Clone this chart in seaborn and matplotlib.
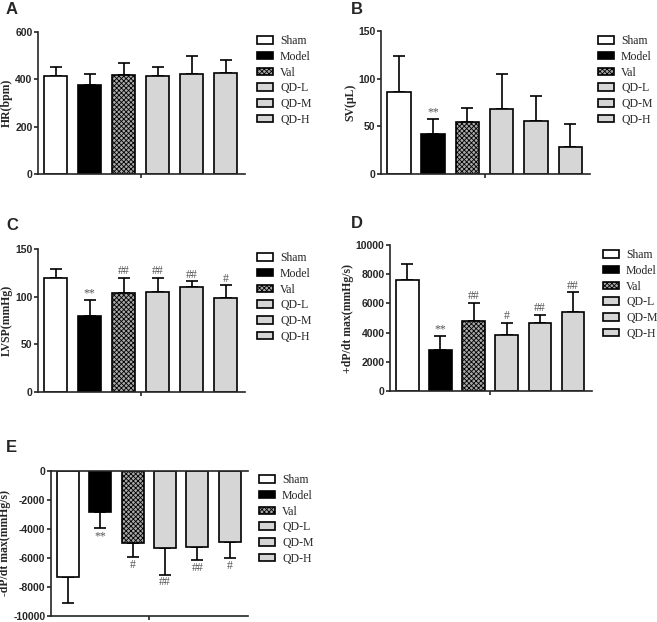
import matplotlib
matplotlib.use("Agg")
import matplotlib.pyplot as plt
import seaborn as sns
import pandas as pd
from matplotlib.patches import Patch

groups = ["Sham", "Model", "Val", "QD-L", "QD-M", "QD-H"]

hr_mean = [415, 378, 420, 415, 422, 428]
hr_sd = [37, 43, 50, 38, 78, 55]

sv_mean = [86, 42, 55, 68, 56, 28]
sv_sd = [38, 16, 14, 37, 26, 24]
sv_sig = ["", "**", "", "", "", ""]

lvsp_mean = [120, 80, 104, 105, 110, 99]
lvsp_sd = [9, 16, 16, 15, 6, 13]
lvsp_sig = ["", "**", "##", "##", "##", "#"]

dpmax_mean = [7600, 2800, 4800, 3850, 4650, 5400]
dpmax_sd = [1100, 950, 1250, 800, 550, 1350]
dpmax_sig = ["", "**", "##", "#", "##", "##"]

dpmin_mean = [-7300, -2850, -4950, -5300, -5250, -4900]
dpmin_sd = [1800, 1100, 1000, 1850, 900, 1100]
dpmin_sig = ["", "**", "#", "##", "##", "#"]

colors = ["#ffffff", "#000000", "#a8a8a8", "#d6d6d6", "#d6d6d6", "#d6d6d6"]
hatches = ["", "", "xxxxxxx", "", "", ""]

sns.set_style("ticks")
plt.rcParams["font.family"] = ["Liberation Sans", "DejaVu Sans"]
plt.rcParams["axes.unicode_minus"] = False
plt.rcParams["hatch.linewidth"] = 0.6

SERIF = ["Liberation Serif", "DejaVu Serif"]
SANS = ["Liberation Sans", "DejaVu Sans"]

W, H = 657, 622
fig = plt.figure(figsize=(W / 100, H / 100), dpi=100)


def px_axes(left, right, top, bottom):
    return fig.add_axes([left / W, 1 - bottom / H, (right - left) / W, (bottom - top) / H])


def panel(ax, means, sds, ylim, yticks, ylabel, sig=None, negative=False):
    df = pd.DataFrame({"group": groups, "value": means})
    sns.barplot(data=df, x="group", y="value", hue="group", order=groups,
                hue_order=groups, palette=colors, legend=False, ax=ax,
                width=0.68, edgecolor="black", linewidth=1.2, errorbar=None,
                saturation=1)
    bars = sorted(ax.patches, key=lambda p: p.get_x())
    for b, h in zip(bars, hatches):
        if h:
            b.set_hatch(h)
    xs = list(range(len(groups)))
    if negative:
        yerr = [sds, [0] * len(sds)]
    else:
        yerr = [[0] * len(sds), sds]
    ax.errorbar(xs, means, yerr=yerr, fmt="none", ecolor="black",
                elinewidth=1.2, capsize=4.5, capthick=1.2, zorder=1)
    for b in bars:
        b.set_zorder(2)
    ax.set_ylim(*ylim)
    ax.set_xlim(-0.52, 5.57)
    ax.set_yticks(yticks)
    ax.set_yticklabels([str(t) for t in yticks], fontsize=7.5, fontweight="bold",
                       family=SANS)
    ax.set_xticks([2.5])
    ax.set_xticklabels([""])
    ax.set_xlabel("")
    ax.set_ylabel(ylabel, fontsize=8.5, fontweight="bold", family=SERIF, labelpad=1.5)
    ax.tick_params(axis="both", direction="out", length=3, width=1.2, pad=1)
    for s in ["left", "bottom"]:
        ax.spines[s].set_linewidth(1.2)
    sns.despine(ax=ax)
    if negative:
        ax.spines["top"].set_visible(True)
        ax.spines["top"].set_linewidth(1.2)
    if sig:
        span = ylim[1] - ylim[0]
        for x, m, s, t in zip(xs, means, sds, sig):
            if not t:
                continue
            if negative:
                ax.text(x, m - s - 0.012 * span, t, ha="center", va="top",
                        fontsize=8.5, color="#555555", family=SERIF)
            else:
                ax.text(x, m + s + 0.005 * span, t, ha="center", va="bottom",
                        fontsize=8.5, color="#555555", family=SERIF)


def legend(ax, x, y):
    handles = [Patch(facecolor=c, edgecolor="black", hatch=h, linewidth=1.2)
               for c, h in zip(colors, hatches)]
    ax.legend(handles, groups, loc="upper left", bbox_to_anchor=(x / W, 1 - y / H),
              bbox_transform=fig.transFigure, frameon=False, borderpad=0,
              borderaxespad=0, handlelength=1.35, handleheight=0.6,
              handletextpad=0.6, labelspacing=0.32,
              prop={"family": SERIF, "size": 8.5})


def letter(x, y, t):
    fig.text(x / W, 1 - y / H, t, fontsize=12, fontweight="bold", family=SANS,
             ha="left", va="center")


axA = px_axes(38, 245, 32, 174)
panel(axA, hr_mean, hr_sd, (0, 600), [0, 200, 400, 600], "HR(bpm)")
legend(axA, 257, 35)
letter(6, 10, "A")

axB = px_axes(381, 590, 31, 174)
panel(axB, sv_mean, sv_sd, (0, 150), [0, 50, 100, 150], "SV(\u03bcL)", sig=sv_sig)
legend(axB, 598, 35)
letter(351, 10, "B")

axC = px_axes(38, 245, 249, 392)
panel(axC, lvsp_mean, lvsp_sd, (0, 150), [0, 50, 100, 150], "LVSP(mmHg)", sig=lvsp_sig)
legend(axC, 257, 252)
letter(6, 226, "C")

axD = px_axes(390, 592, 245, 391)
panel(axD, dpmax_mean, dpmax_sd, (0, 10000), [0, 2000, 4000, 6000, 8000, 10000],
      "+dP/dt max(mmHg/s)", sig=dpmax_sig)
legend(axD, 603, 249)
letter(351, 223, "D")

axE = px_axes(51, 248, 471, 616)
panel(axE, dpmin_mean, dpmin_sd, (-10000, 0),
      [0, -2000, -4000, -6000, -8000, -10000], "-dP/dt max(mmHg/s)",
      sig=dpmin_sig, negative=True)
legend(axE, 259, 474)
letter(6, 448, "E")

fig.savefig("out.png", dpi=100)
